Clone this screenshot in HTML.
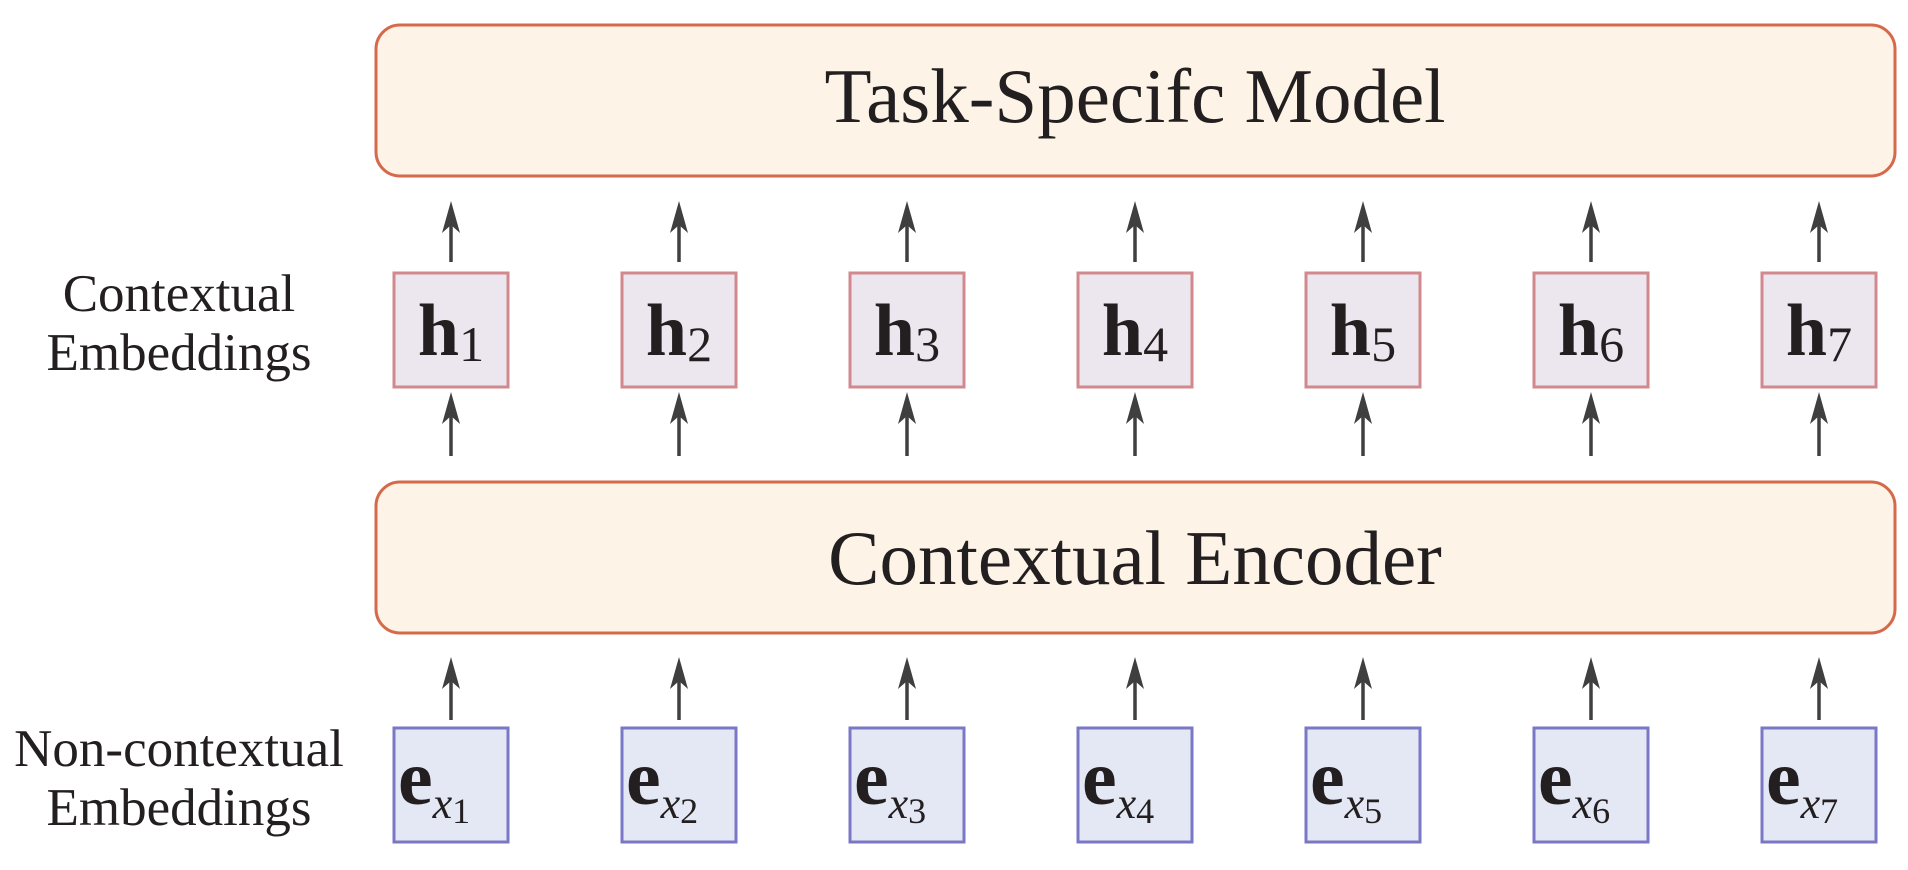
<!DOCTYPE html>
<html><head><meta charset="utf-8"><style>
html,body{margin:0;padding:0;background:#fff;}
svg{display:block;}
text{font-family:"Liberation Serif","DejaVu Serif",serif;fill:#231f20;}
</style></head><body>
<svg id="fig" width="1908" height="870" viewBox="0 0 1908 870" xmlns="http://www.w3.org/2000/svg">
<rect x="376" y="25" width="1519" height="151" rx="24" fill="#fdf4e7" stroke="#d6694a" stroke-width="3"/>
<text x="1135" y="122" font-size="77" text-anchor="middle">Task-Specifc Model</text>
<rect x="376" y="482" width="1519" height="151" rx="24" fill="#fdf4e7" stroke="#d6694a" stroke-width="3"/>
<text x="1135" y="584" font-size="77" text-anchor="middle">Contextual Encoder</text>
<text x="179" y="311" font-size="53" text-anchor="middle">Contextual</text>
<text x="179" y="370" font-size="53" text-anchor="middle">Embeddings</text>
<text x="179" y="766" font-size="53" text-anchor="middle">Non-contextual</text>
<text x="179" y="825" font-size="53" text-anchor="middle">Embeddings</text>
<g id="cols"></g>
</svg>
<script>
const indices = [1,2,3,4,5,6,7];
const g = document.getElementById('cols');
const NS = 'http://www.w3.org/2000/svg';
function arrow(cx, y1, y2, name){
  const a = document.createElementNS(NS,'g');
  
  
  const l = document.createElementNS(NS,'line');
  l.setAttribute('x1',cx);l.setAttribute('x2',cx);l.setAttribute('y1',y2);l.setAttribute('y2',y1+10);
  l.setAttribute('stroke','#3f3f3f');l.setAttribute('stroke-width','3.5');
  const p = document.createElementNS(NS,'path');
  p.setAttribute('d',`M${cx} ${y1} L${cx+9} ${y1+32} L${cx} ${y1+24} L${cx-9} ${y1+32} Z`);
  p.setAttribute('fill','#3f3f3f');
  a.appendChild(l);a.appendChild(p);g.appendChild(a);
}
function box(cx, y, fill, stroke, main, sub, isE, name){
  const r = document.createElementNS(NS,'rect');
  r.setAttribute('x',cx-57);r.setAttribute('y',y);r.setAttribute('width',114);r.setAttribute('height',114);
  r.setAttribute('fill',fill);r.setAttribute('stroke',stroke);r.setAttribute('stroke-width','3');
  
  
  g.appendChild(r);
  const t = document.createElementNS(NS,'text');
  t.setAttribute('x', isE ? cx-53 : cx);
  t.setAttribute('y', isE ? y+76 : y+82);
  t.setAttribute('text-anchor', isE ? 'start' : 'middle');
  
  
  const m = document.createElementNS(NS,'tspan');
  m.setAttribute('font-size', isE ? '78' : '74');m.setAttribute('font-weight','bold');m.textContent=main;
  t.appendChild(m);
  if(isE){
    const x = document.createElementNS(NS,'tspan');
    x.setAttribute('font-size','44');x.setAttribute('font-style','italic');x.setAttribute('dy','14');x.textContent='x';
    t.appendChild(x);
    const s = document.createElementNS(NS,'tspan');
    s.setAttribute('font-size','36');s.setAttribute('dy','5');s.textContent=sub;
    t.appendChild(s);
  } else {
    const s = document.createElementNS(NS,'tspan');
    s.setAttribute('font-size','50');s.setAttribute('dy','6');s.textContent=sub;
    t.appendChild(s);
  }
  g.appendChild(t);
}
indices.forEach((n,i)=>{
  const cx = 451 + i*228;
  arrow(cx, 201, 262, 'arrow-h'+n+'-to-model');
  box(cx, 273, '#ece6ee', '#d08a8e', 'h', String(n), false, 'h'+n);
  arrow(cx, 392, 456, 'arrow-encoder-to-h'+n);
  arrow(cx, 657, 720, 'arrow-e'+n+'-to-encoder');
  box(cx, 728, '#e4e8f4', '#7a78c6', 'e', String(n), true, 'e'+n);
});
</script>
</body></html>
